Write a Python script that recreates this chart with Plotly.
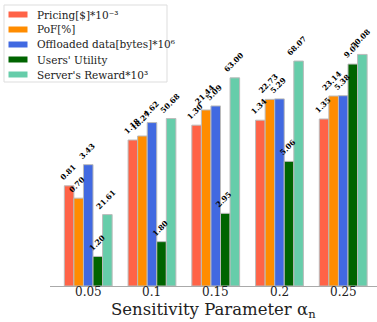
import plotly.graph_objects as go

categories = ["0.05", "0.1", "0.15", "0.2", "0.25"]
series_names = ["Pricing[$]*10⁻³", "PoF[%]", "Offloaded data[bytes]*10⁶",
                "Users' Utility", "Server's Reward*10³"]
pricing = [0.81, 1.18, 1.30, 1.34, 1.35]
pof = [10.7, 18.27, 21.44, 22.73, 23.14]
pof_labels = ["0.70", "18.27", "21.44", "22.73", "23.14"]
offloaded = [3.43, 4.62, 5.09, 5.29, 5.38]
utility = [1.20, 1.80, 2.95, 5.06, 9.01]
reward = [21.61, 50.68, 63.00, 68.07, 70.08]

series = [pricing, pof, offloaded, utility, reward]
labels = [[f"{v:.2f}" for v in pricing], pof_labels,
          [f"{v:.2f}" for v in offloaded], [f"{v:.2f}" for v in utility],
          [f"{v:.2f}" for v in reward]]
colors = ["#FF6347", "#FF8C00", "#4169E1", "#006400", "#66CDAA"]
yranges = [[0, 2.15], [0, 32.4], [0, 7.52], [0, 10.8], [0, 80.5]]

W, H = 377, 322
ML, MR, MT, MB = 50, 0, 20, 36
PW, PH = W - ML - MR, H - MT - MB


def px2x(px):
    return (px - ML) / PW


def px2y(py):
    return (H - MB - py) / PH


bar_w = 0.15
x_idx = list(range(len(categories)))

fig = go.Figure()
annotations = []
shapes = []
for k, (vals, name, col) in enumerate(zip(series, series_names, colors)):
    yax = "y" if k == 0 else f"y{k+1}"
    off = -2.5 * bar_w + k * bar_w
    fig.add_trace(go.Bar(
        x=x_idx, y=vals, name=name, yaxis=yax,
        width=bar_w, offset=off, showlegend=False,
        marker=dict(color=col, line=dict(color="#bbbbbb", width=1)),
    ))
    for i, v in enumerate(vals):
        annotations.append(dict(
            x=i + off + bar_w / 2 - 0.02, y=v, xref="x", yref=yax,
            text=f"<b>{labels[k][i]}</b>", showarrow=False, textangle=-45,
            xanchor="center", yanchor="bottom", yshift=1,
            font=dict(family="DejaVu Serif", size=7.5, color="black"),
        ))

# manual legend (matplotlib-like)
shapes.append(dict(type="rect", xref="paper", yref="paper",
                   x0=px2x(4), x1=px2x(167), y0=px2y(82), y1=px2y(5),
                   line=dict(color="#dddddd", width=1), fillcolor="white", layer="above"))
for k, (name, col) in enumerate(zip(series_names, colors)):
    cy = 14.5 + 15 * k
    shapes.append(dict(type="rect", xref="paper", yref="paper",
                       x0=px2x(8.5), x1=px2x(27.5), y0=px2y(cy + 3), y1=px2y(cy - 3),
                       line=dict(width=0), fillcolor=col, layer="above"))
    annotations.append(dict(x=px2x(35), y=px2y(cy), xref="paper", yref="paper",
                            text=name, showarrow=False, xanchor="left", yanchor="middle",
                            font=dict(family="DejaVu Serif", size=10.5, color="#222222")))

# category tick labels
for i, c in enumerate(categories):
    annotations.append(dict(x=i, y=px2y(292), xref="x", yref="paper", text=c,
                            showarrow=False, xanchor="center", yanchor="middle",
                            borderpad=0,
                            font=dict(family="DejaVu Serif", size=12, color="#222222")))

annotations.append(dict(x=0.5, y=px2y(310), xref="paper", yref="paper",
                        text="Sensitivity Parameter α<sub>n</sub>", showarrow=False,
                        xanchor="center", yanchor="middle", borderpad=0,
                        font=dict(family="DejaVu Serif", size=16.5, color="#222222")))

layout = dict(
    width=W, height=H,
    margin=dict(l=ML, r=MR, t=MT, b=MB),
    plot_bgcolor="white", paper_bgcolor="white",
    showlegend=False,
    xaxis=dict(range=[-0.6, 4.53], tickvals=x_idx, showticklabels=False,
               showgrid=False, zeroline=False, showline=True,
               linecolor="#aaaaaa", linewidth=1, ticks=""),
    annotations=annotations,
    shapes=shapes,
)
for k in range(5):
    key = "yaxis" if k == 0 else f"yaxis{k+1}"
    ax = dict(range=yranges[k], visible=False, showgrid=False, zeroline=False)
    if k > 0:
        ax["overlaying"] = "y"
    layout[key] = ax
fig.update_layout(**layout)
fig.write_html("out.html", config={"displayModeBar": False},
               post_script="document.body.style.margin='0';")
